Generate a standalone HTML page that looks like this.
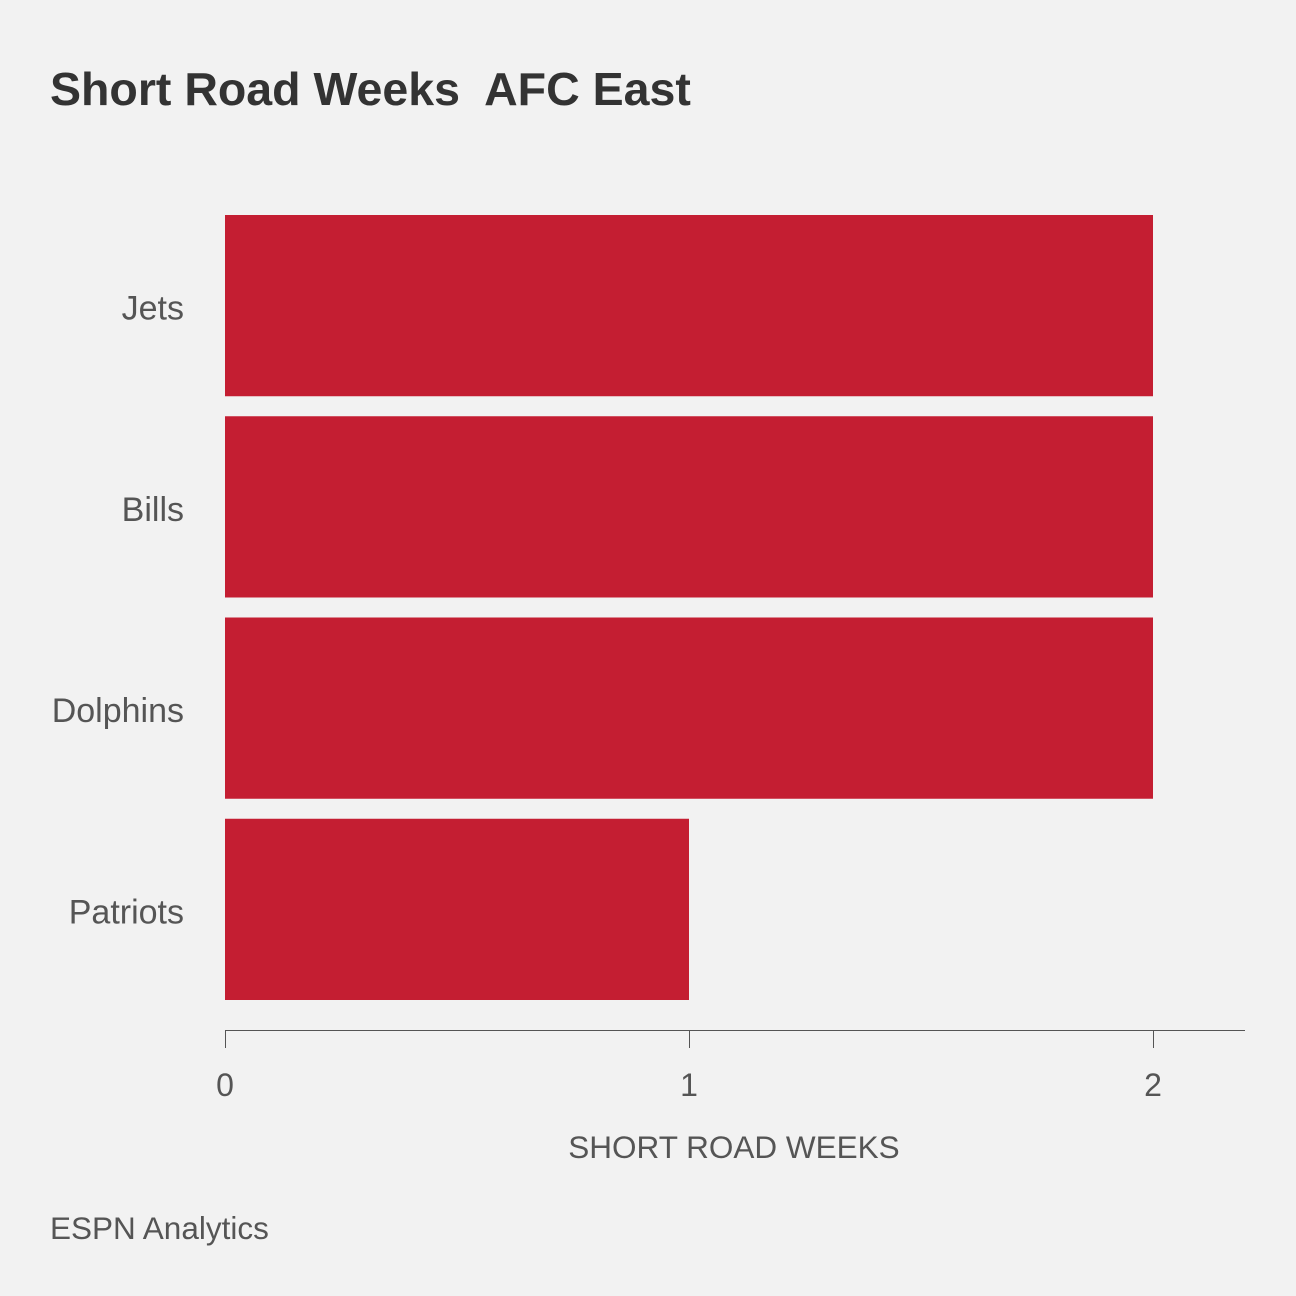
<!DOCTYPE html>
<html><head><meta charset="utf-8"><style>
body{margin:0;background:#f2f2f2;}
svg{display:block;font-family:"Liberation Sans",sans-serif;}
</style></head><body>
<svg id="chart" width="1296" height="1296" viewBox="0 0 1296 1296">
<rect width="1296" height="1296" fill="#f2f2f2"/>
<text x="50" y="105" font-size="46.5" font-weight="bold" fill="#333" style="white-space:pre">Short Road Weeks  AFC East</text>
<g id="bars"></g>
<g id="yaxis"></g>
<g id="xaxis"></g>
<text x="734" y="1158" font-size="31.5" fill="#555" text-anchor="middle">SHORT ROAD WEEKS</text>
<text x="50" y="1239" font-size="31.5" fill="#555">ESPN Analytics</text>
</svg>
<script>
const categories = ["Jets","Bills","Dolphins","Patriots"];
const values = [2,2,2,1];
const ticks = [0,1,2];
const NS="http://www.w3.org/2000/svg";
const x = v => 225 + v*464;
const step = 201.25, y0 = 205, pad = 10;
const y = i => y0 + i*step + pad;
const bh = step - 2*pad;
const bars=document.getElementById('bars'), ya=document.getElementById('yaxis'), xa=document.getElementById('xaxis');
function mk(tag, attrs, parent){const e=document.createElementNS(NS,tag);for(const k in attrs)e.setAttribute(k,attrs[k]);parent.appendChild(e);return e;}
categories.forEach((c,i)=>{
  const r=mk('rect',{x:x(0),y:y(i),width:x(values[i])-x(0),height:bh,fill:'#c41e32'},bars);
  
  
  const t=mk('text',{x:184,y:y(i)+bh/2+14,'font-size':34,fill:'#555','text-anchor':'end'},ya);
  t.textContent=c;
  
  
});
const axl=mk('line',{x1:225,x2:1245,y1:1030.5,y2:1030.5,stroke:'#555','stroke-width':1},xa);


ticks.forEach(v=>{
  const l=mk('line',{x1:x(v)+0.5,x2:x(v)+0.5,y1:1030,y2:1048,stroke:'#555','stroke-width':1},xa);
  
  
  const t=mk('text',{x:x(v),y:1096,'font-size':32,fill:'#555','text-anchor':'middle'},xa);
  t.textContent=v;
  
  
});
</script>
</body></html>
